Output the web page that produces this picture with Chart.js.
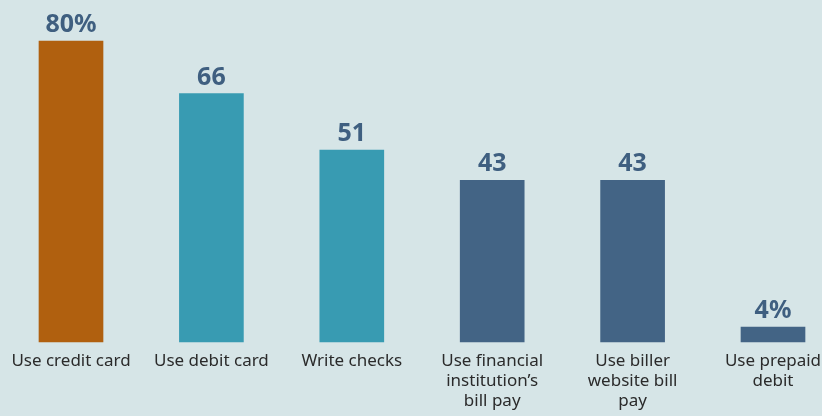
<!DOCTYPE html>
<html>
<head>
<meta charset="utf-8">
<script src="https://cdn.jsdelivr.net/npm/chart.js@4/dist/chart.umd.min.js"></script>
<style>
  html, body { margin: 0; padding: 0; background: #d6e5e7; overflow: hidden; }
  #wrap { width: 822px; height: 416px; overflow: hidden; }
</style>
</head>
<body>
<div id="wrap"><canvas id="chart" width="822" height="425"></canvas></div>
<script>
// Payment methods used (share of respondents)

const CATEGORIES = [
  ['Use credit card'],
  ['Use debit card'],
  ['Write checks'],
  ['Use financial', 'institution\u2019s', 'bill pay'],
  ['Use biller', 'website bill', 'pay'],
  ['Use prepaid', 'debit'],
];
const VALUES = [80, 66, 51, 43, 43, 4];
const VALUE_LABELS = ['80%', '66', '51', '43', '43', '4%'];
const BAR_COLORS = ['#b0600f', '#389bb2', '#389bb2', '#436485', '#436485', '#436485'];

const LABEL_COLOR = '#3f5f80';

// draw the bold figures above each bar
const valueLabels = {
  id: 'valueLabels',
  afterDatasetsDraw(chart) {
    const ctx = chart.ctx;
    const meta = chart.getDatasetMeta(0);
    ctx.save();
    ctx.font = 'bold 25px "Noto Sans"';
    ctx.fillStyle = LABEL_COLOR;
    ctx.textAlign = 'center';
    ctx.textBaseline = 'alphabetic';
    meta.data.forEach((bar, i) => {
      ctx.fillText(VALUE_LABELS[i], bar.x, bar.y - 9);
    });
    ctx.restore();
  },
};

new Chart(document.getElementById('chart'), {
  type: 'bar',
  data: {
    labels: CATEGORIES,
    datasets: [{
      data: VALUES,
      backgroundColor: BAR_COLORS,
      borderWidth: 0,
      barThickness: 64,
      clip: false,
    }],
  },
  options: {
    responsive: false,
    animation: false,
    layout: { padding: { top: 41, left: 71, right: 49, bottom: 5 } },
    plugins: {
      legend: { display: false },
      tooltip: { enabled: false },
    },
    scales: {
      x: {
        offset: false,
        grid: { display: false, drawTicks: false },
        border: { display: false },
        ticks: {
          color: '#2b2b2b',
          font: { family: 'Noto Sans', size: 17, lineHeight: 1.176 },
          padding: 9,
          maxRotation: 0,
          autoSkip: false,
        },
        // let the layout padding alone decide where the first/last category sits
        afterFit(scale) {
          scale.paddingLeft = 0;
          scale.paddingRight = 0;
        },
      },
      y: {
        display: false,
        min: 0,
        max: 80,
      },
    },
  },
  plugins: [valueLabels],
});
</script>
</body>
</html>
